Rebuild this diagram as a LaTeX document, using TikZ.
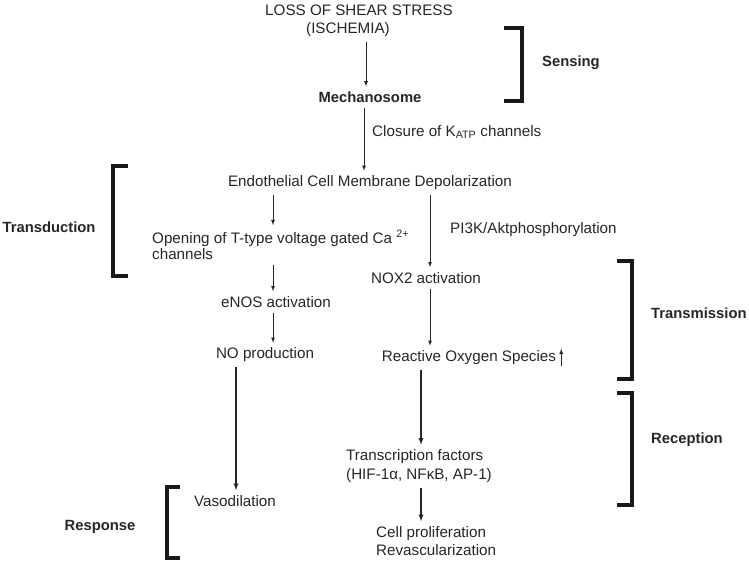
\documentclass[tikz,border=0pt]{standalone}
\usepackage{fontspec}
\setmainfont{Liberation Sans}
\begin{document}
\begin{tikzpicture}[x=1pt, y=-1pt,
        every node/.style={inner sep=0pt, text=black!85, font=\fontsize{15.2}{16.5}\selectfont},
        step label/.style={font=\fontsize{14.8}{16}\selectfont\bfseries},
        arr/.style={->, >=latex, line width=0.8pt, black!85, shorten <=5pt, shorten >=5pt},
        thick arr/.style={arr, line width=1.3pt},
        bracket/.style={line width=4.5pt, black!90}]
            \useasboundingbox (0, 0) rectangle (749, 562);
            % main pathway
            \node (loss) at (359, 10) {LOSS OF SHEAR STRESS};
            \node (isch) at (348, 30) {(ISCHEMIA)};
            \node[font=\fontsize{14.8}{16}\selectfont\bfseries] (mech) at (370, 97) {Mechanosome};
            \node[anchor=west] (closure) at (372, 132) {Closure of K\textsubscript{ATP} channels};
            \node (depol) at (370, 183) {Endothelial Cell Membrane Depolarization};
            % left branch
            \node[anchor=west, align=left] (open) at (152, 245) {Opening of T-type voltage gated Ca \textsuperscript{2+}\\channels};
            \node (enos) at (276, 302) {eNOS activation};
            \node (nop) at (265, 355) {NO production};
            \node (vaso) at (235, 501) {Vasodilation};
            % right branch
            \node[anchor=west] (pik) at (450, 230) {PI3K/Aktphosphorylation};
            \node (nox) at (426, 278) {NOX2 activation};
            \node (ros) at (469, 358) {Reactive Oxygen Species};
            \node[anchor=west, align=left, font=\fontsize{15.2}{19}\selectfont] (tf) at (346, 466.5) {Transcription factors\\(HIF-1α, NFκB, AP-1)};
            \node[anchor=west, align=left, font=\fontsize{15.2}{18}\selectfont] (cell) at (376, 541) {Cell proliferation\\Revascularization};
            % arrow columns
            \coordinate (ca) at (366, 0);
            \coordinate (cb) at (364, 0);
            \coordinate (cl) at (273, 0);
            \coordinate (cn) at (236, 0);
            \coordinate (cr) at (430, 0);
            \coordinate (ct) at (421, 0);
            % connectors
            \draw[arr] (isch.south -| ca) -- (mech.north -| ca);
            \draw[arr] (mech.south -| cb) -- (depol.north -| cb);
            \draw[arr] (depol.south -| cl) -- (open.north -| cl);
            \draw[arr] (open.south -| cl) -- (enos.north -| cl);
            \draw[arr] (enos.south -| cl) -- (nop.north -| cl);
            \draw[thick arr] (nop.south -| cn) -- (vaso.north -| cn);
            \draw[arr] (depol.south -| cr) -- (nox.north -| cr);
            \draw[arr] (nox.south -| cr) -- (ros.north -| cr);
            \draw[->, >=latex, line width=0.9pt, black!85] ([xshift=5pt, yshift=-1pt]ros.south east) -- ([xshift=5pt, yshift=2pt]ros.north east);
            \draw[thick arr] (ros.south -| ct) -- (tf.north -| ct);
            \draw[thick arr] (tf.south -| ct) -- (cell.north -| ct);
            % brackets
            \draw[bracket] (504, 28) -- (522, 28) -- (522, 101) -- (504, 101);
            \node[step label, anchor=west] (sensing) at (542, 63) {Sensing};
            \draw[bracket] (128, 166) -- (113, 166) -- (113, 276) -- (128, 276);
            \node[step label] (transduction) at (49, 227) {Transduction};
            \draw[bracket] (617, 261) -- (632, 261) -- (632, 379) -- (617, 379);
            \node[step label, anchor=west] (transmission) at (651, 313) {Transmission};
            \draw[bracket] (617, 393) -- (632, 393) -- (632, 505) -- (617, 505);
            \node[step label, anchor=west] (reception) at (651, 440) {Reception};
            \draw[bracket] (180, 487) -- (167, 487) -- (167, 558) -- (180, 558);
            \node[step label] (response) at (100, 527) {Response};
        \end{tikzpicture}
\end{document}
